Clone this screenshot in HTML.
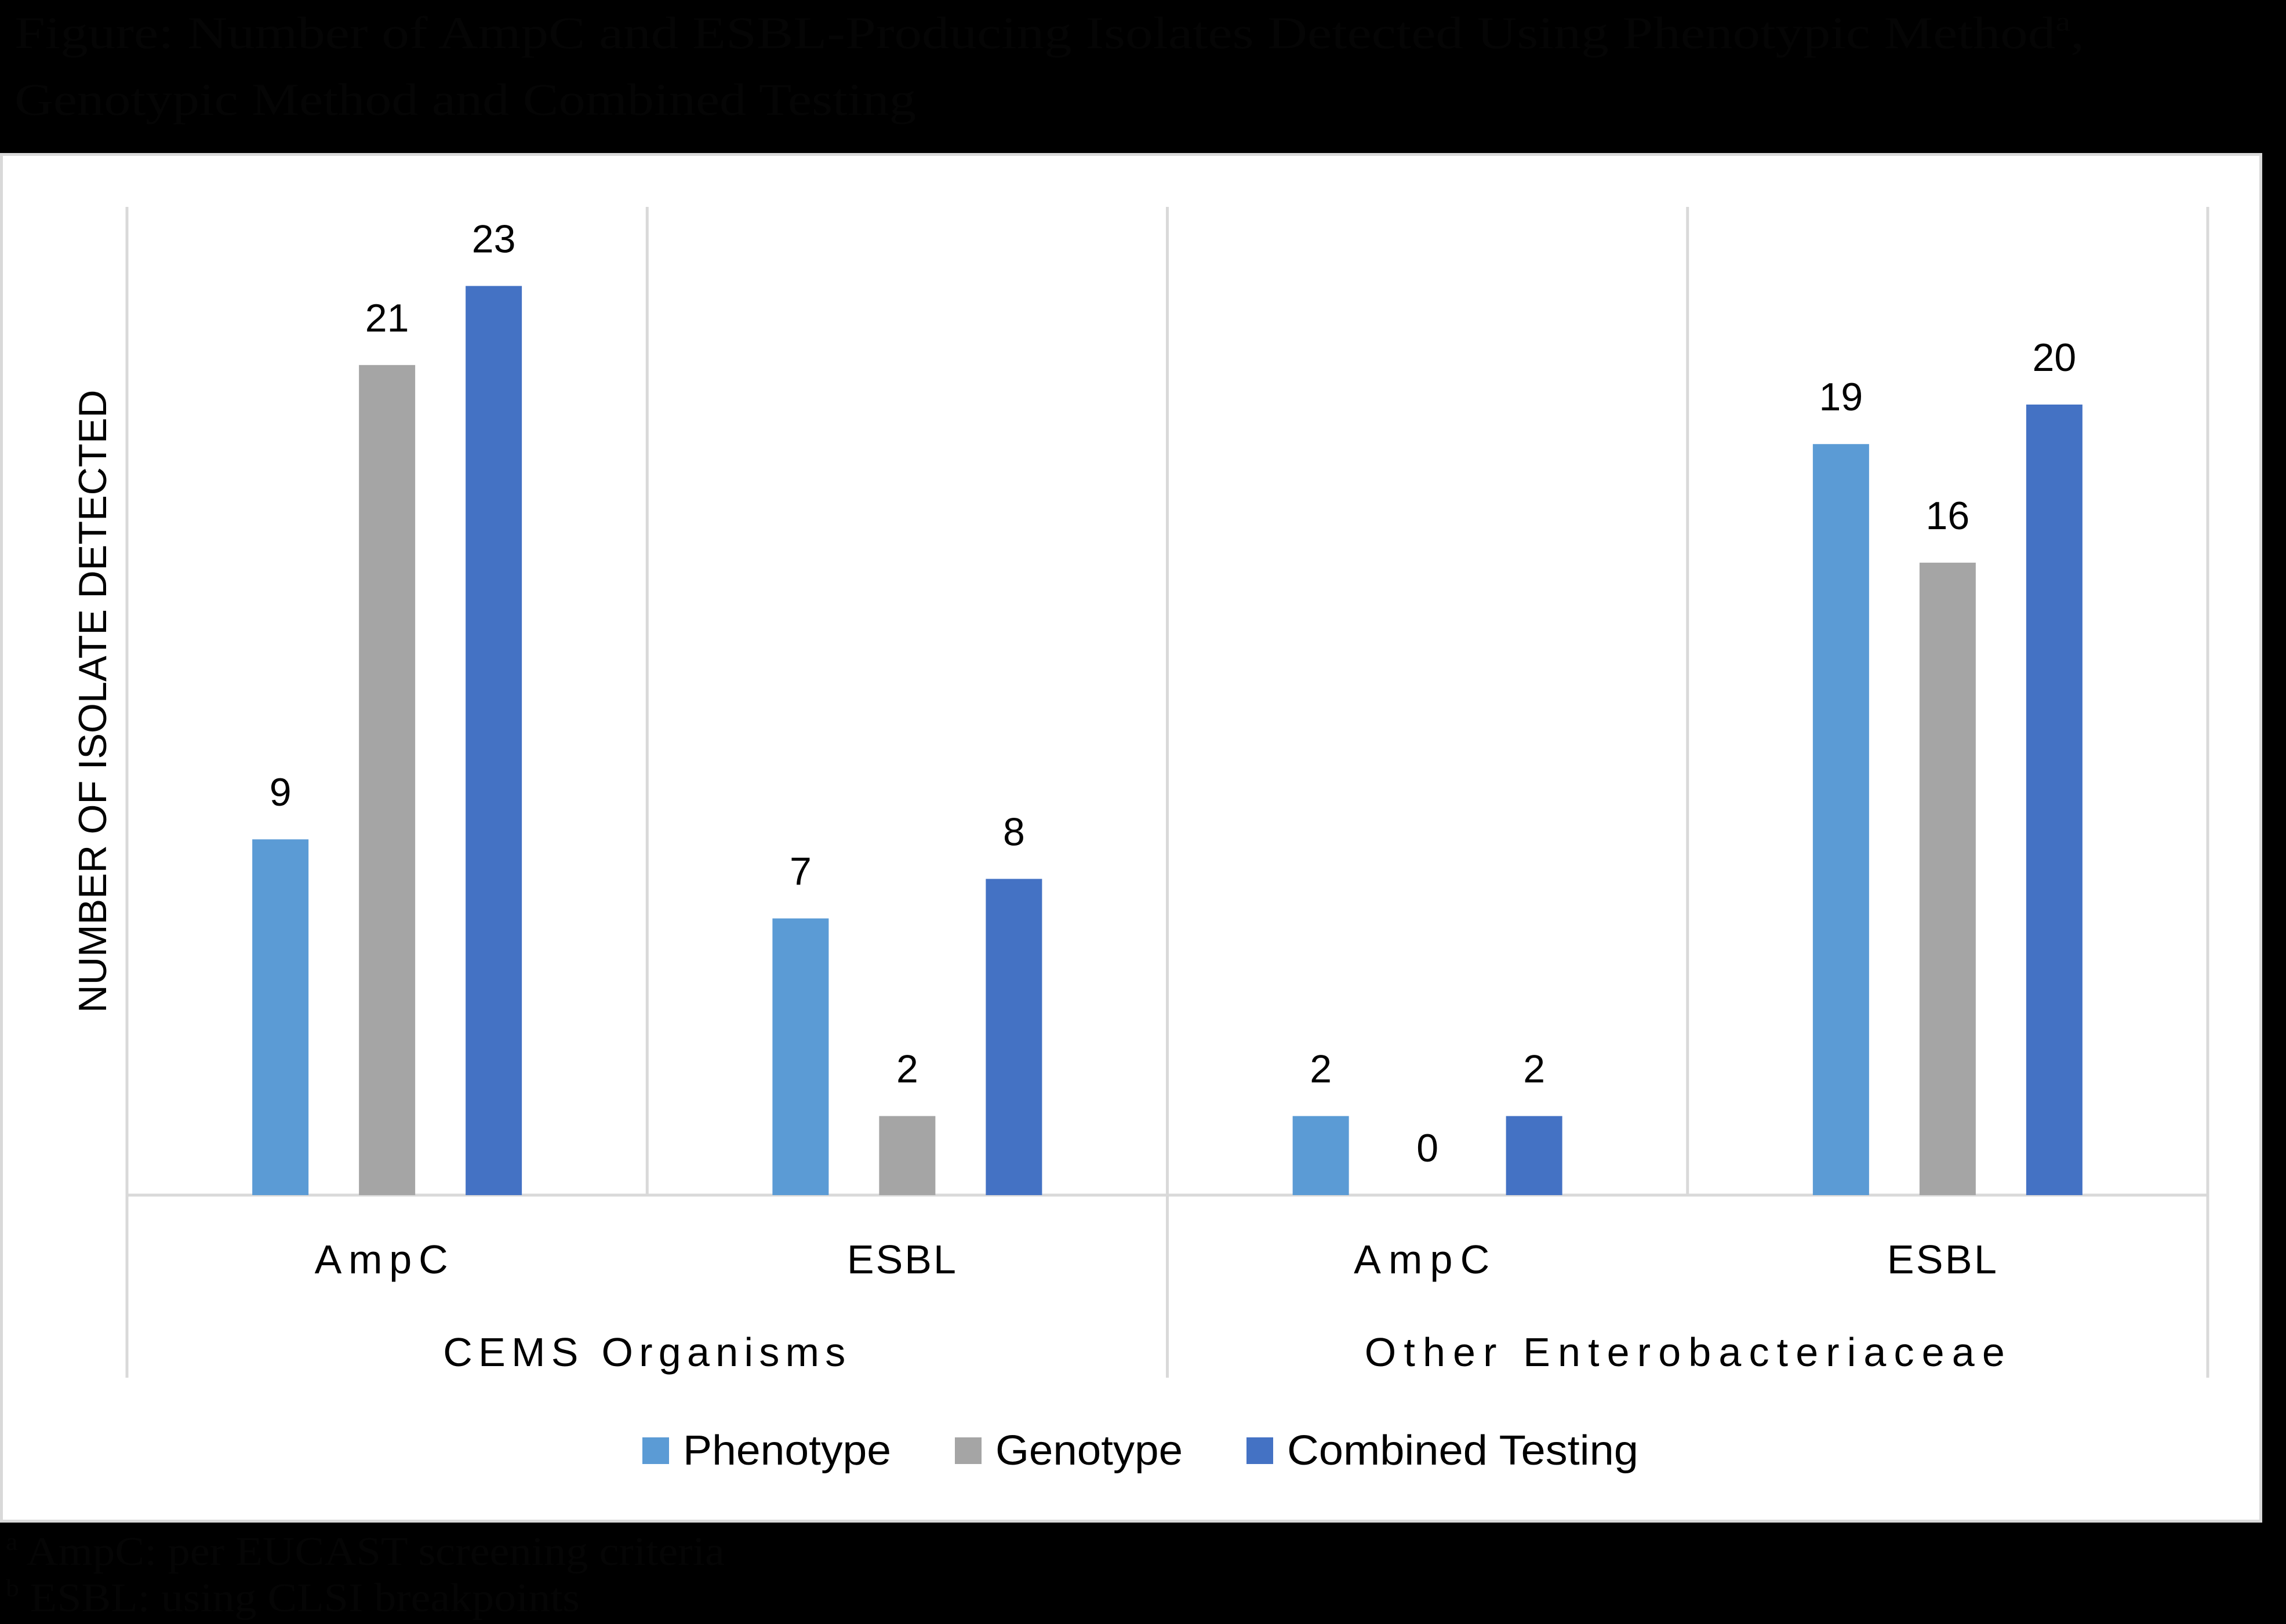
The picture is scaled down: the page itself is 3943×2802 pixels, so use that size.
<!DOCTYPE html>
<html><head><meta charset="utf-8"><style>
html,body{margin:0;padding:0;background:#000;}
svg{display:block;}
text{font-family:"Liberation Sans",sans-serif;}
</style></head><body>
<svg id="chart" width="3943" height="2802" viewBox="0 0 3943 2802" xmlns="http://www.w3.org/2000/svg">
<rect x="0" y="0" width="3943" height="2802" fill="#000"/>
<g fill="#050505" font-size="78">
<text x="25" y="83" textLength="3570" lengthAdjust="spacingAndGlyphs" style="font-family:'Liberation Serif',serif">Figure: Number of AmpC and ESBL-Producing Isolates Detected Using Phenotypic Method<tspan font-size="48" dy="-30">a</tspan><tspan dy="30">,</tspan></text>
<text x="25" y="198" textLength="1555" lengthAdjust="spacingAndGlyphs" style="font-family:'Liberation Serif',serif">Genotypic Method and Combined Testing</text>
</g>
<rect x="2.5" y="266.5" width="3897" height="2358" fill="#fff" stroke="#d9d9d9" stroke-width="5"/>
<g id="plot"></g>
<text transform="translate(183,1210) rotate(-90)" text-anchor="middle" font-size="68" textLength="1075" lengthAdjust="spacingAndGlyphs" fill="#000">NUMBER OF ISOLATE DETECTED</text>
<g id="legend"></g>
<g fill="#050505" font-size="70">
<text x="10" y="2700" textLength="1240" lengthAdjust="spacingAndGlyphs" style="font-family:'Liberation Serif',serif"><tspan font-size="42" dy="-26">a</tspan><tspan dy="26"> AmpC: per EUCAST screening criteria</tspan></text>
<text x="10" y="2780" textLength="990" lengthAdjust="spacingAndGlyphs" style="font-family:'Liberation Serif',serif"><tspan font-size="42" dy="-26">b</tspan><tspan dy="26"> ESBL: using CLSI breakpoints</tspan></text>
</g>
</svg>
<script>
const groups = ["CEMS Organisms", "Other Enterobacteriaceae"];
const categories = ["AmpC", "ESBL", "AmpC", "ESBL"];
const seriesNames = ["Phenotype", "Genotype", "Combined Testing"];
const phenotype = [9, 7, 2, 19];
const genotype = [21, 2, 0, 16];
const combined = [23, 8, 2, 20];
const yMax = 25;

const NS = "http://www.w3.org/2000/svg";
const colors = ["#5B9BD5", "#A5A5A5", "#4472C4"];
const series = [phenotype, genotype, combined];
const plotL = 219, plotR = 3808, plotT = 357, plotB = 2062;
const slotW = (plotR - plotL) / categories.length;
const barW = 97, barStep = 184;
function yScale(v){ return plotB - (v / yMax) * (plotB - plotT); }
function xCenter(i){ return plotL + slotW * (i + 0.5); }
function mk(tag, attrs, parent){ const e = document.createElementNS(NS, tag); for (const k in attrs) e.setAttribute(k, attrs[k]); parent.appendChild(e); return e; }
const plot = document.getElementById('plot');

for (let i = 0; i <= categories.length; i++) {
  const x = plotL + slotW * i;
  const outer = (i % 2 === 0);
  const ln = mk('line', {x1:x, x2:x, y1:plotT, y2: outer ? 2377 : plotB, stroke:'#d9d9d9', 'stroke-width':5}, plot);
  
  
}
const base = mk('line', {x1:plotL, x2:plotR, y1:plotB, y2:plotB, stroke:'#d9d9d9', 'stroke-width':5}, plot);



series.forEach((vals, s) => {
  vals.forEach((v, i) => {
    const cx = xCenter(i) + (s - 1) * barStep;
    const y = yScale(v);
    const r = mk('rect', {x: cx - barW/2, y: y, width: barW, height: plotB - y, fill: colors[s]}, plot);
    
    
    const t = mk('text', {x: cx, y: y - 58, 'text-anchor':'middle', 'font-size':68, fill:'#000'}, plot);
    t.textContent = String(v);
    
    
  });
});

const catW = [230, 188, 234, 189];
categories.forEach((c, i) => {
  const t = mk('text', {x: xCenter(i) - 10, y: 2197, 'text-anchor':'middle', 'font-size':70, fill:'#000', textLength: catW[i], lengthAdjust:'spacing'}, plot);
  t.textContent = c;
  
  
});
const grpW = [694, 1104];
groups.forEach((g, j) => {
  const cx = plotL + slotW * (2 * j + 1);
  const t = mk('text', {x: cx - 5, y: 2357, 'text-anchor':'middle', 'font-size':70, fill:'#000', textLength: grpW[j], lengthAdjust:'spacing'}, plot);
  t.textContent = g;
  
  
});

const legend = document.getElementById('legend');
const legX = [1108, 1647, 2150];
const legW = [359, 323, 606];
seriesNames.forEach((n, s) => {
  const g = mk('g', {}, legend);
  
  
  const sq = mk('rect', {x: legX[s], y: 2480, width: 46, height: 46, fill: colors[s]}, g);
  
  
  const t = mk('text', {x: legX[s] + 70, y: 2527, 'font-size':72, fill:'#000', textLength: legW[s], lengthAdjust:'spacingAndGlyphs'}, g);
  t.textContent = n;
  
  
});
</script>
</body></html>
